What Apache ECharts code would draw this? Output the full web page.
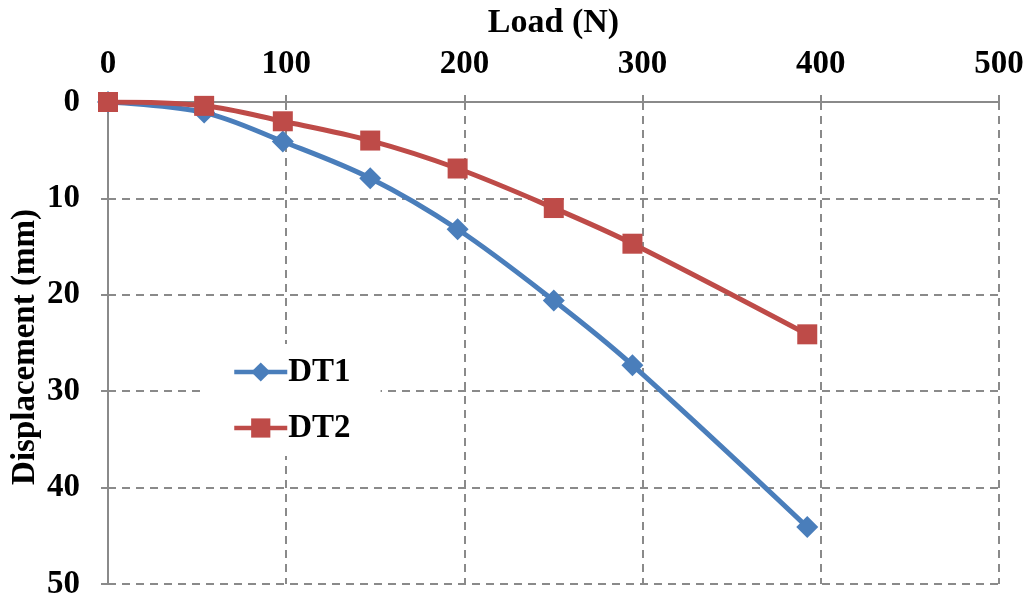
<!DOCTYPE html>
<html>
<head>
<meta charset="utf-8">
<script src="https://cdn.jsdelivr.net/npm/echarts@6/dist/echarts.min.js"></script>
<style>
  html, body { margin: 0; padding: 0; background: #fff; }
  #chart { width: 1029px; height: 599px; }
</style>
</head>
<body>
<div id="chart"></div>
<script>
// load in N (masses x 9.81)
const loads = [0, 53.96, 98.1, 147.15, 196.2, 250.16, 294.3, 392.4];
const dt1 = [0, 1.1, 4.1, 7.9, 13.2, 20.6, 27.3, 44.1];
const dt2 = [0, 0.4, 2.0, 4.0, 6.9, 11.0, 14.7, 24.1];
const seriesNames = ['DT1', 'DT2'];
const colors = ['#4a7ebb', '#be4b48'];

const font = "'Liberation Serif', 'Times New Roman', serif";
const gray = '#8a8a8a';

function pairs (ys) {
    return loads.map(function (x, i) { return [x, ys[i]]; });
}

let myChart = echarts.init(document.getElementById('chart'));
myChart.setOption({
    animation: false,
    backgroundColor: '#fff',
    grid: {
        left: 108,
        right: 30,
        top: 102,
        bottom: 15,
        containLabel: false,
        outerBoundsMode: 'none'
    },
    legend: {
        orient: 'vertical',
        left: 202,
        top: 344,
        padding: [10, 30, 10, 30],
        backgroundColor: '#fff',
        itemWidth: 53,
        itemHeight: 24,
        itemGap: 20,
        lineStyle: { width: 4.5 },
        textStyle: {
            fontFamily: font,
            fontWeight: 'bold',
            fontSize: 33,
            lineHeight: 36,
            color: '#000',
            padding: [0, 0, 0, -4]
        },
        data: seriesNames
    },
    xAxis: {
        type: 'value',
        position: 'top',
        min: 0,
        max: 500,
        interval: 100,
        name: 'Load (N)',
        nameLocation: 'middle',
        nameGap: 62,
        nameMoveOverlap: false,
        nameTextStyle: {
            fontFamily: font,
            fontWeight: 'bold',
            fontSize: 34,
            color: '#000'
        },
        axisLine: { onZero: false, lineStyle: { color: gray, width: 2 } },
        axisTick: { show: true, length: 7, lineStyle: { color: gray, width: 2 } },
        axisLabel: {
            margin: 21,
            fontFamily: font,
            fontWeight: 'bold',
            fontSize: 33,
            color: '#000'
        },
        splitLine: { show: true, lineStyle: { color: gray, width: 2, type: [8, 6] } }
    },
    yAxis: {
        type: 'value',
        inverse: true,
        min: 0,
        max: 50,
        interval: 10,
        name: 'Displacement (mm)',
        nameLocation: 'middle',
        nameGap: 66,
        nameMoveOverlap: false,
        nameTextStyle: {
            fontFamily: font,
            fontWeight: 'bold',
            fontSize: 33,
            color: '#000',
            padding: [0, 8, 0, 0]
        },
        axisLine: { show: true, onZero: false, lineStyle: { color: gray, width: 2 } },
        axisTick: { show: true, length: 7, lineStyle: { color: gray, width: 2 } },
        axisLabel: {
            margin: 28,
            fontFamily: font,
            fontWeight: 'bold',
            fontSize: 33,
            color: '#000'
        },
        splitLine: { show: true, lineStyle: { color: gray, width: 2, type: [8, 6] } }
    },
    series: [{
        name: seriesNames[0],
        type: 'line',
        smooth: 0.35,
        data: pairs(dt1),
        symbol: 'diamond',
        symbolSize: 22,
        lineStyle: { color: colors[0], width: 5 },
        itemStyle: { color: colors[0] },
        z: 3
    }, {
        name: seriesNames[1],
        type: 'line',
        smooth: 0.35,
        data: pairs(dt2),
        symbol: 'rect',
        symbolSize: 20,
        lineStyle: { color: colors[1], width: 5 },
        itemStyle: { color: colors[1] },
        z: 4
    }]
});
</script>
</body>
</html>
